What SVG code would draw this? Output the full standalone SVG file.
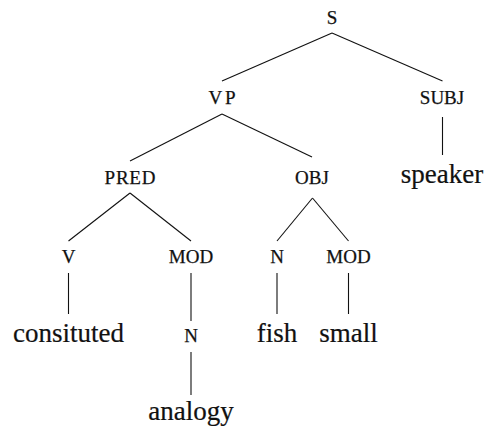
<svg xmlns="http://www.w3.org/2000/svg" width="486" height="432" viewBox="0 0 486 432">
<style>
.lab{font-family:"Liberation Serif","Times New Roman",serif;font-size:19px;text-anchor:middle;fill:#111;stroke:#111;stroke-width:0.25}
.wd{font-family:"Liberation Serif","Times New Roman",serif;font-size:27px;text-anchor:middle;fill:#111;stroke:#111;stroke-width:0.2}
.edges line{stroke:#111;stroke-width:1.1}
</style>
<rect width="486" height="432" fill="#fff"/>
<g class="edges" id="connectors">
<line x1="332" y1="33" x2="222" y2="81"/>
<line x1="332" y1="33" x2="442.5" y2="81"/>
<line x1="442.5" y1="117" x2="442.5" y2="155"/>
<line x1="222" y1="114" x2="130" y2="161"/>
<line x1="222" y1="114" x2="312" y2="157"/>
<line x1="130" y1="193" x2="68.5" y2="241"/>
<line x1="130" y1="193" x2="191" y2="241"/>
<line x1="312.5" y1="198" x2="277" y2="241"/>
<line x1="312.5" y1="198" x2="348.5" y2="241"/>
<line x1="68.5" y1="273" x2="68.5" y2="314"/>
<line x1="191" y1="273" x2="191" y2="321"/>
<line x1="277" y1="273" x2="277" y2="314"/>
<line x1="348.5" y1="273" x2="348.5" y2="314"/>
<line x1="191" y1="352" x2="191" y2="395"/>
</g>
<g id="n-s"><text class="lab" x="332" y="24">S</text></g>
<g id="n-vp"><text class="lab" x="222" y="104" textLength="27" lengthAdjust="spacing">VP</text></g>
<g id="n-subj"><text class="lab" x="442" y="104">SUBJ</text></g>
<g id="n-speaker"><text class="wd" x="442" y="183">speaker</text></g>
<g id="n-pred"><text class="lab" x="130" y="184" textLength="51" lengthAdjust="spacing">PRED</text></g>
<g id="n-obj"><text class="lab" x="312" y="184">OBJ</text></g>
<g id="n-v"><text class="lab" x="68.5" y="263">V</text></g>
<g id="n-mod1"><text class="lab" x="191" y="263">MOD</text></g>
<g id="n-n2"><text class="lab" x="277" y="263">N</text></g>
<g id="n-mod2"><text class="lab" x="348.5" y="263">MOD</text></g>
<g id="n-consituted"><text class="wd" x="68.5" y="342">consituted</text></g>
<g id="n-n1"><text class="lab" x="191" y="342">N</text></g>
<g id="n-fish"><text class="wd" x="277" y="342">fish</text></g>
<g id="n-small"><text class="wd" x="348.5" y="342">small</text></g>
<g id="n-analogy"><text class="wd" x="191" y="420">analogy</text></g>
</svg>
